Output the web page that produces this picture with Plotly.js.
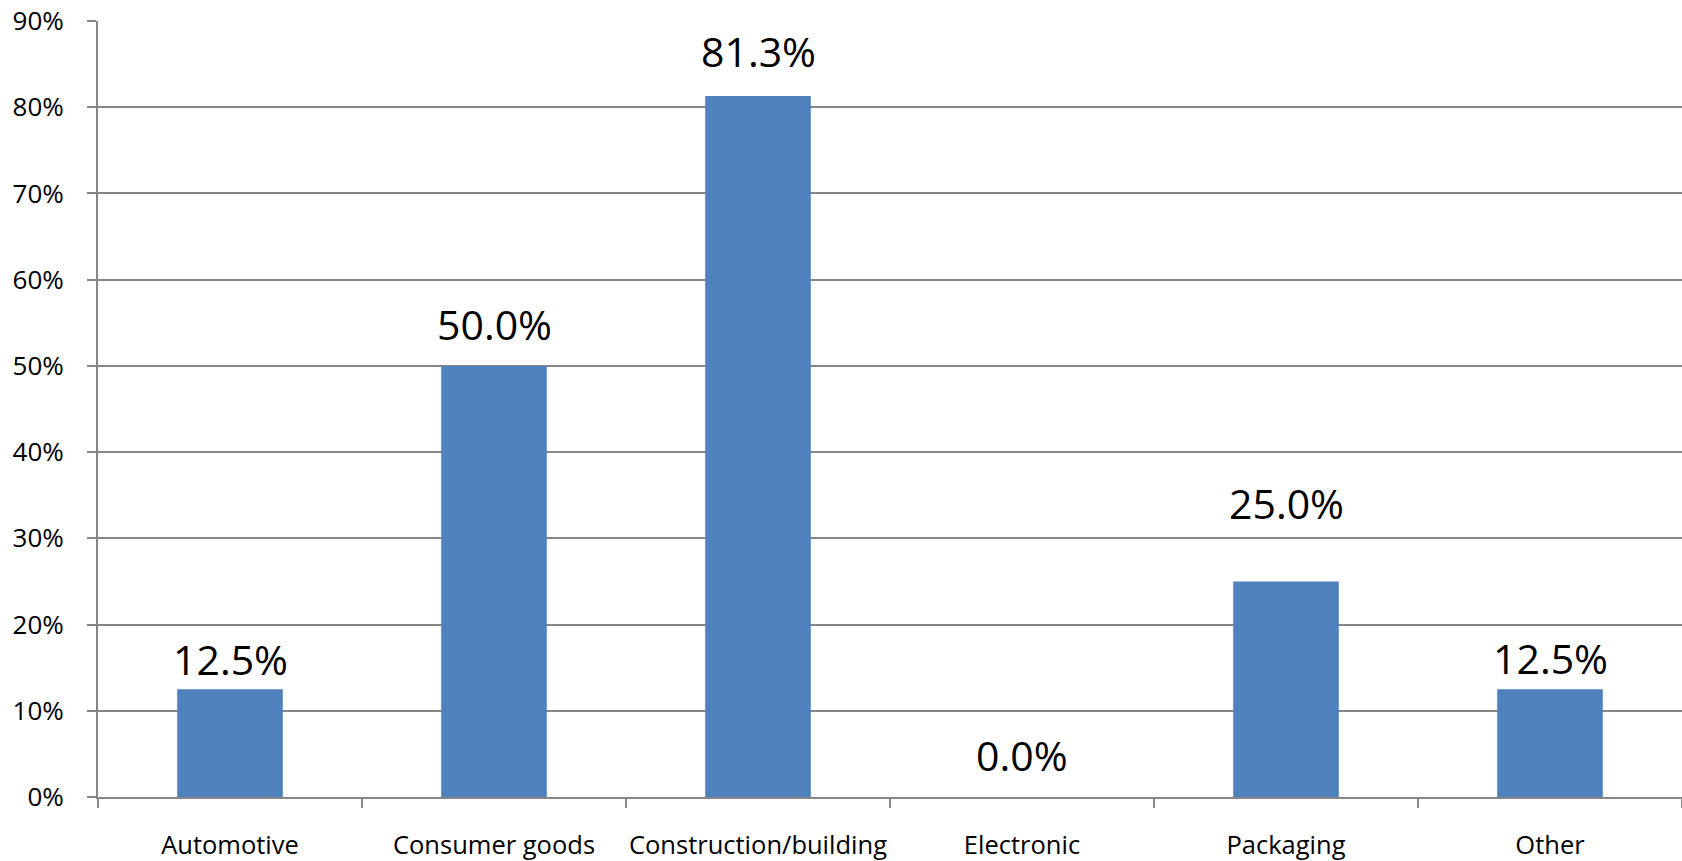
<!DOCTYPE html>
<html>
<head>
<meta charset="utf-8">
<script src="https://cdn.plot.ly/plotly-3.0.1.min.js"></script>
<style>
html,body{margin:0;padding:0;background:#fff;}
#chart{width:1682px;height:861px;}
</style>
</head>
<body>
<div id="chart"></div>
<script>
const categories = ["Automotive", "Consumer goods", "Construction/building", "Electronic", "Packaging", "Other"];
const shares = [12.5, 50.0, 81.3, 0.0, 25.0, 12.5];
const labels = ["12.5%", "50.0%", "81.3%", "0.0%", "25.0%", "12.5%"];
const yTicks = [0, 10, 20, 30, 40, 50, 60, 70, 80, 90];
const yTickLabels = ["0%", "10%", "20%", "30%", "40%", "50%", "60%", "70%", "80%", "90%"];

// pixel offsets of each data label above its bar (styling, not data)
const labelShifts = [0, 12, 15, 12, 48, 1];

const FONT = "Open Sans, Lato, sans-serif";

const trace = {
  type: "bar",
  x: categories,
  y: shares,
  marker: {color: "#4F81BD", line: {width: 0}},
  hoverinfo: "x+y"
};

const annotations = categories.map((c, i) => ({
  x: c, y: shares[i], xref: "x", yref: "y",
  text: labels[i], showarrow: false,
  xanchor: "center", yanchor: "bottom",
  yshift: labelShifts[i],
  font: {family: FONT, size: 41, color: "#000"}
}));

const layout = {
  width: 1682, height: 861,
  margin: {l: 98, r: 0, t: 21, b: 64, pad: 0},
  paper_bgcolor: "#fff", plot_bgcolor: "#fff",
  showlegend: false,
  bargap: 0.6,
  xaxis: {
    type: "category",
    tickson: "boundaries",
    tickangle: 0,
    ticks: "outside", ticklen: 9, tickwidth: 2, tickcolor: "#868686",
    showline: true, linecolor: "#868686", linewidth: 2,
    showgrid: false, zeroline: false,
    tickfont: {family: FONT, size: 25.5, color: "#000"},
    ticklabelstandoff: 24
  },
  yaxis: {
    range: [0, 90],
    tickvals: yTicks, ticktext: yTickLabels,
    ticks: "outside", ticklen: 9, tickwidth: 2, tickcolor: "#868686",
    showline: true, linecolor: "#868686", linewidth: 2,
    showgrid: true, gridcolor: "#868686", gridwidth: 2,
    zeroline: false,
    tickfont: {family: FONT, size: 26, color: "#000"},
    ticklabelstandoff: 18
  },
  annotations: annotations
};

Plotly.newPlot("chart", [trace], layout, {displayModeBar: false, staticPlot: true});
</script>
</body>
</html>
